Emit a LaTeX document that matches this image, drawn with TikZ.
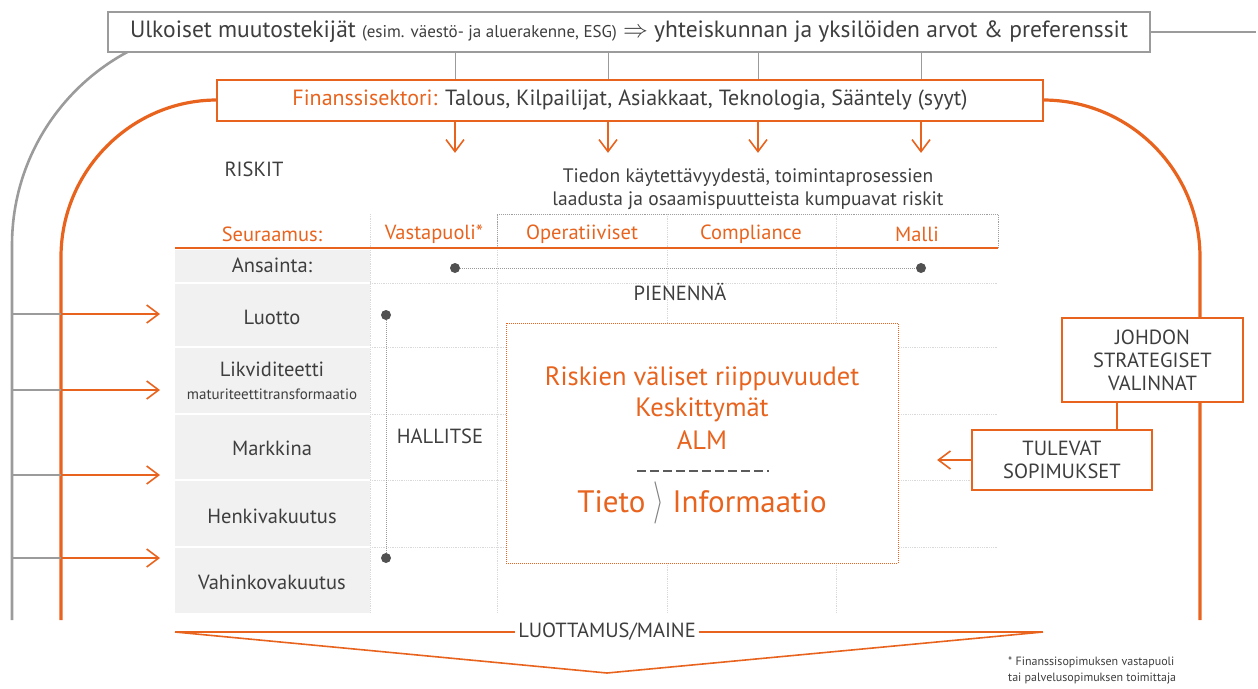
\documentclass[tikz,border=0pt]{standalone}
\usepackage{fontspec}
\setmainfont{PT Sans}
\usepackage{tikz}
\usetikzlibrary{arrows.meta}
\definecolor{orng}{RGB}{232,100,30}
\definecolor{ink}{RGB}{62,62,62}
\definecolor{lgray}{RGB}{155,155,155}
\definecolor{cellgray}{RGB}{241,241,241}
\tikzset{
  extbox/.style   = {draw=lgray, line width=1.4pt, fill=white, text=ink,
                     minimum width=1042pt, minimum height=40pt, inner sep=0pt},
  orbox/.style    = {draw=orng, line width=1.8pt, fill=white, text=ink,
                     align=center, inner sep=0pt, font=\fontsize{20.5}{23}\selectfont},
  orar/.style     = {-{Straight Barb[length=12pt,width=18pt]}, orng, line width=1.6pt},
  orline/.style   = {orng, line width=1.6pt},
  bigarc/.style   = {orng, line width=3.2pt},
  grayarc/.style  = {lgray, line width=2.6pt},
  thingray/.style = {lgray, line width=1pt},
  gridln/.style   = {gray!30, line width=0.8pt, densely dotted},
  boxln/.style    = {gray!75, line width=0.9pt, densely dotted},
  dotln/.style    = {gray!80, line width=1pt, densely dotted},
  blob/.style     = {circle, fill=ink!90, inner sep=0pt, minimum size=10pt},
  head/.style     = {text=orng, font=\fontsize{20.5}{24}\selectfont},
  rowlbl/.style   = {text=ink, font=\fontsize{20.5}{24}\selectfont},
  core/.style     = {text=orng, font=\fontsize{26.5}{30}\selectfont}
}

\begin{document}
\begin{tikzpicture}[x=1pt,y=-1pt]
  \useasboundingbox (0,0) rectangle (1258,688);

  % outer grey and orange loops
  \draw[grayarc] (231,26) .. controls (110,26) and (12,124) .. (12,245) -- (12,620);
  \draw[bigarc] (217,100) .. controls (131,100) and (61,171) .. (61,257) -- (61,620);
  \draw[bigarc] (1043,100) .. controls (1130,100) and (1200,171) .. (1200,257) -- (1200,620);

  \node[extbox] (ext) at (629,32)
    {\fontsize{23.5}{26}\selectfont Ulkoiset muutostekijät
     {\fontsize{17}{19}\selectfont (esim. väestö- ja aluerakenne, ESG)}
     $\Rightarrow$ yhteiskunnan ja yksilöiden arvot \& preferenssit};
  \coordinate (rim) at (1256,32);
  \draw[grayarc, line width=2pt] (ext.east) -- (rim);

  \node[orbox, minimum width=826pt, minimum height=41pt,
        font=\fontsize{22}{25}\selectfont] (fin) at (630,100.5)
    {\textcolor{orng}{Finanssisektori:} Talous, Kilpailijat, Asiakkaat, Teknologia, Sääntely (syyt)};

  \foreach \x [count=\i] in {455,608,758,921} {
    \coordinate (c\i) at (\x,0);
    \draw[thingray] (ext.south -| c\i) -- (fin.north -| c\i);
    \draw[orar] (fin.south -| c\i) -- ++(0,31);
  }

  \node[rowlbl, anchor=west] (riskit) at (221,169) {RISKIT};
  \node[rowlbl, align=center, font=\fontsize{19.5}{23}\selectfont] (cause) at (748,189)
    {Tiedon käytettävyydestä, toimintaprosessien\\laadusta ja osaamispuutteista kumpuavat riskit};

  % table
  \fill[cellgray] (175,250) rectangle (370,613);
  \foreach \y in {283,347,414,480,547} {
    \draw[white, line width=1.2pt] (175,\y) -- (370,\y);
    \draw[gridln] (370,\y) -- (998,\y);
  }
  \foreach \x in {370,497,667,836} \draw[gridln] (\x,214) -- (\x,613);
  \draw[boxln] (497,248) -- (497,214) -- (998,214) -- (998,248);
  \draw[orline] (175,248) -- (998,248);

  \node[head] (h1) at (272,234) {Seuraamus:};
  \node[head] (h2) at (434,234) {Vastapuoli*};
  \node[head] (h3) at (582,234) {Operatiiviset};
  \node[head] (h4) at (751,234) {Compliance};
  \node[head] (h5) at (917,234) {Malli};

  \node[rowlbl] (r0) at (272,265) {Ansainta:};
  \node[rowlbl] (r1) at (272,317) {Luotto};
  \node[rowlbl] (r2) at (272,369) {Likviditeetti};
  \node[rowlbl, font=\fontsize{15}{17}\selectfont] (r2b) at (272,394) {maturiteettitransformaatio};
  \node[rowlbl] (r3) at (272,448) {Markkina};
  \node[rowlbl] (r4) at (272,516) {Henkivakuutus};
  \node[rowlbl] (r5) at (272,582) {Vahinkovakuutus};

  \foreach \y in {314,390,475,558} {
    \draw[thingray, line width=1.4pt] (12,\y) -- (61,\y);
    \draw[orar] (61,\y) -- (160,\y);
  }

  \node[blob] (aL) at (455,268) {};
  \node[blob] (aR) at (921,268) {};
  \draw[dotln] (aL) -- (aR);
  \node[rowlbl] (shrink) at (680,292) {PIENENNÄ};
  \node[blob] (mT) at (386,315) {};
  \node[blob] (mB) at (386,558) {};
  \draw[dotln] (mT) -- (mB);
  \node[rowlbl] (manage) at (440,436) {HALLITSE};

  % core box
  \node[draw=orng, line width=1pt, densely dotted, fill=white,
        minimum width=392pt, minimum height=240pt] (corebox) at (702,443) {};
  \node[core] (k1) at (702,379) {Riskien väliset riippuvuudet};
  \node[core] (k2) at (702,410) {Keskittymät};
  \node[core] (k3) at (702,440) {ALM};
  \coordinate (dl) at (637,471);
  \coordinate (dr) at (769,471);
  \draw[ink!85, line width=1.4pt, dash pattern=on 9pt off 4pt] (dl) -- (dr);
  \node[core, font=\fontsize{31}{34}\selectfont] (k4) at (702,503)
    {Tieto \textcolor{gray}{\raisebox{-1pt}{\scalebox{1.1}[1.7]{$\rangle$}}} Informaatio};

  % management boxes
  \node[orbox, minimum width=181pt, minimum height=84pt] (mgmt) at (1152.5,360)
    {JOHDON\\STRATEGISET\\VALINNAT};
  \node[orbox, minimum width=180pt, minimum height=60pt] (deal) at (1062,460)
    {TULEVAT\\SOPIMUKSET};
  \coordinate (c5) at (1117,0);
  \draw[orline] (mgmt.south -| c5) -- (deal.north -| c5);
  \draw[orar] (deal.west) -- ++(-34,0);

  % trust
  \node[rowlbl] (trust) at (607,632) {LUOTTAMUS/MAINE};
  \coordinate (vl) at (175,632);
  \coordinate (vr) at (1043,632);
  \coordinate (vt) at (607,673);
  \draw[orline] (vl) -- (trust.west);
  \draw[orline] (trust.east) -- (vr);
  \draw[orline] (vl) -- (vt) -- (vr);

  \node[text=ink, anchor=north west, align=left, inner sep=0pt,
        font=\fontsize{12}{16}\selectfont] (note) at (1008,657)
    {* Finanssisopimuksen vastapuoli\\tai palvelusopimuksen toimittaja};
\end{tikzpicture}
\end{document}
